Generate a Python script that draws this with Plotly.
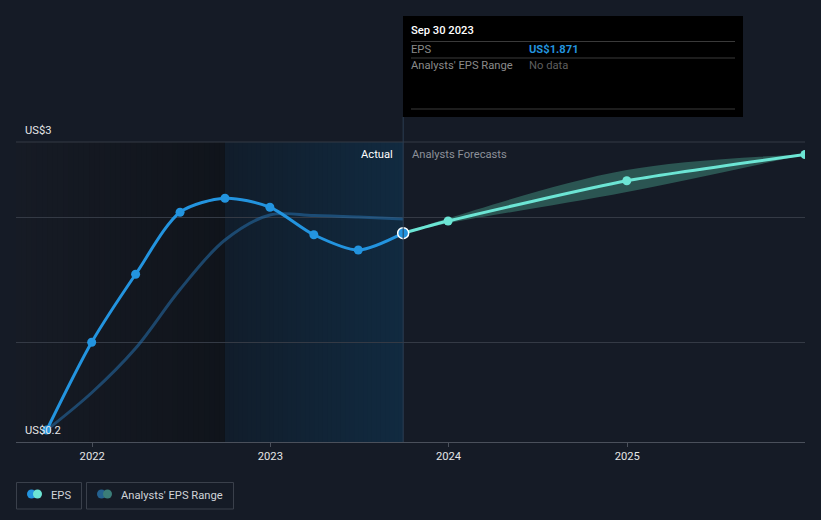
import pandas as pd
import plotly.graph_objects as go

# EPS history (quarterly, trailing) and analyst consensus line
eps_dates = ["2021-09-30", "2021-12-31", "2022-03-31", "2022-06-30", "2022-09-30",
             "2022-12-31", "2023-03-31", "2023-06-30", "2023-09-30"]
eps_values = [0.296, 0.998, 1.542, 2.038, 2.15, 2.078, 1.858, 1.736, 1.871]
consensus_values = [0.296, 0.594, 0.95, 1.42, 1.816, 2.016, 2.012, 2.0, 1.984]

# analysts' forecasts
forecast_dates = ["2023-09-30", "2023-12-31", "2024-12-31", "2025-12-31"]
forecast_values = [1.871, 1.968, 2.29, 2.50]
range_low = [1.871, 1.95, 2.20, 2.50]
range_high = [1.871, 1.99, 2.376, 2.50]

x_ticks = ["2022-01-01", "2023-01-01", "2024-01-01", "2025-01-01"]
x_tick_text = ["2022", "2023", "2024", "2025"]
y_label_top = "US$3"
y_label_bottom = "US$0.2"

actual_start = "2022-09-30"
actual_end = "2023-09-30"

BG = "#151b26"
EPS_BLUE = "#2394df"
TEAL = "#6ce5d4"
FONT = "Roboto"
FS = 11.2

W, H = 821, 520
L, R, T, B = 16, 16, 142, 78


def px(x):
    return (x - L) / (W - L - R)


def py(y):
    return (H - B - y) / (H - T - B)


def mix(c0, c1, t):
    a = [int(c0[i:i + 2], 16) for i in (1, 3, 5)]
    b = [int(c1[i:i + 2], 16) for i in (1, 3, 5)]
    return "#" + "".join(f"{round(a[k] + (b[k] - a[k]) * t):02x}" for k in range(3))


fig = go.Figure()


def gradient_band(start, end, c0, c1, n=40):
    edges = pd.date_range(start, end, periods=n + 1)
    for i in range(n):
        fig.add_shape(
            type="rect", xref="x", yref="paper",
            x0=edges[i], x1=edges[min(i + 2, n)], y0=0, y1=1,
            fillcolor=mix(c0, c1, i / (n - 1)), line_width=0, layer="below",
        )


gradient_band("2021-07-29", actual_start, "#161b25", "#10141b")
gradient_band(actual_start, actual_end, "#111d2b", "#112a40")

# analyst consensus (past)
fig.add_trace(go.Scatter(
    x=eps_dates, y=consensus_values, mode="lines",
    line={"color": "rgba(38,112,172,0.55)", "width": 3, "shape": "spline"},
    hoverinfo="skip",
))
# analysts' range band
fig.add_trace(go.Scatter(
    x=forecast_dates, y=range_low, mode="lines",
    line={"color": "rgba(0,0,0,0)", "width": 0, "shape": "spline"},
    hoverinfo="skip",
))
fig.add_trace(go.Scatter(
    x=forecast_dates, y=range_high, mode="lines", fill="tonexty",
    fillcolor="#2b5552",
    line={"color": "rgba(0,0,0,0)", "width": 0, "shape": "spline"},
    hoverinfo="skip",
))
# forecast line
fig.add_trace(go.Scatter(
    x=forecast_dates, y=forecast_values, mode="lines+markers",
    line={"color": TEAL, "width": 3, "shape": "spline", "smoothing": 0.6},
    marker={"color": TEAL, "size": [0, 9, 9, 9], "opacity": 1, "line": {"width": 0}},
))
# EPS
fig.add_trace(go.Scatter(
    x=eps_dates, y=eps_values, mode="lines+markers",
    line={"color": EPS_BLUE, "width": 3, "shape": "spline", "smoothing": 0.8},
    marker={
        "color": EPS_BLUE, "opacity": 1,
        "size": [9] * (len(eps_values) - 1) + [11],
        "line": {"color": [EPS_BLUE] * (len(eps_values) - 1) + ["white"],
                 "width": [0] * (len(eps_values) - 1) + [1.5]},
    },
))

# top border line and divider between actual and forecast
fig.add_shape(type="line", xref="paper", yref="paper", x0=0, x1=1, y0=1, y1=1,
              line={"color": "#343a45", "width": 1}, layer="below")
fig.add_shape(type="line", xref="x", yref="paper", x0=actual_end, x1=actual_end,
              y0=0, y1=py(117), line={"color": "#2b3d52", "width": 1})

annotations = [
    dict(x=px(23), y=py(130), text=y_label_top, xanchor="left",
         font={"color": "#e6e6e6", "size": FS}),
    dict(x=px(23), y=py(430), text=y_label_bottom, xanchor="left",
         font={"color": "#e6e6e6", "size": FS}),
    dict(x=px(395), y=py(154), text="Actual", xanchor="right",
         font={"color": "#ffffff", "size": FS}),
    dict(x=px(410), y=py(154), text="Analysts Forecasts", xanchor="left",
         font={"color": "#8c9099", "size": FS}),
]

# tooltip box
fig.add_shape(type="rect", xref="paper", yref="paper", x0=px(403), x1=px(743),
              y0=py(117), y1=py(16), fillcolor="#000000", line_width=0)
for yy in (41.5, 58, 109):
    fig.add_shape(type="line", xref="paper", yref="paper", x0=px(411), x1=px(735),
                  y0=py(yy), y1=py(yy), line={"color": "#3a3a3a", "width": 1})
annotations += [
    dict(x=px(409), y=py(31), text="Sep 30 2023", xanchor="left",
         font={"color": "#ffffff", "size": FS, "weight": 500}),
    dict(x=px(409), y=py(49.5), text="EPS", xanchor="left",
         font={"color": "#8a8a8a", "size": FS}),
    dict(x=px(527), y=py(49.5), text=f"US${eps_values[-1]:.3f}", xanchor="left",
         font={"color": EPS_BLUE, "size": FS, "weight": "bold"}),
    dict(x=px(409), y=py(66), text="Analysts' EPS Range", xanchor="left",
         font={"color": "#8a8a8a", "size": FS}),
    dict(x=px(527), y=py(66), text="No data", xanchor="left",
         font={"color": "#5e5e5e", "size": FS}),
]

# legend (drawn by hand: two separate boxes)
legend_items = [
    ("EPS", 16.5, 81.5, EPS_BLUE, TEAL),
    ("Analysts' EPS Range", 86.5, 233.5, "#24618f", "#3b7d78"),
]
for label, x0, x1, c_a, c_b in legend_items:
    fig.add_shape(type="rect", xref="paper", yref="paper", x0=px(x0), x1=px(x1),
                  y0=py(509), y1=py(482.5), line={"color": "#3a404b", "width": 1},
                  fillcolor="rgba(0,0,0,0)")
    for cx, col in ((x0 + 15, c_a), (x0 + 21, c_b)):
        fig.add_shape(type="circle", xref="paper", yref="paper",
                      x0=px(cx - 4.5), x1=px(cx + 4.5), y0=py(494 + 4.5), y1=py(494 - 4.5),
                      fillcolor=col, line_width=0)
    annotations.append(dict(x=px(x0 + 32), y=py(495), text=label, xanchor="left",
                            font={"color": "#d0d3d8", "size": FS}))

for a in annotations:
    a.update(xref="paper", yref="paper", showarrow=False, yanchor="middle")

fig.update_layout(
    width=W, height=H,
    margin={"l": L, "r": R, "t": T, "b": B},
    paper_bgcolor=BG, plot_bgcolor=BG,
    font={"family": FONT, "color": "#e6e6e6"},
    showlegend=False,
    annotations=annotations,
    xaxis={
        "type": "date", "range": ["2021-07-29", "2025-12-31"],
        "tickvals": x_ticks, "ticktext": x_tick_text,
        "ticks": "outside", "ticklen": 4, "tickcolor": "#4a505b",
        "showline": True, "linecolor": "#4a505b", "linewidth": 1,
        "showgrid": False, "zeroline": False,
        "tickfont": {"size": FS, "color": "#e6e6e6"},
    },
    yaxis={
        "range": [0.2, 2.6], "tickvals": [1, 2], "showticklabels": False,
        "gridcolor": "#343a45", "gridwidth": 1, "zeroline": False,
    },
)

fig.write_html(
    "out.html",
    config={"displayModeBar": False},
    post_script="document.body.style.margin='0';document.body.style.background='" + BG + "';",
)
